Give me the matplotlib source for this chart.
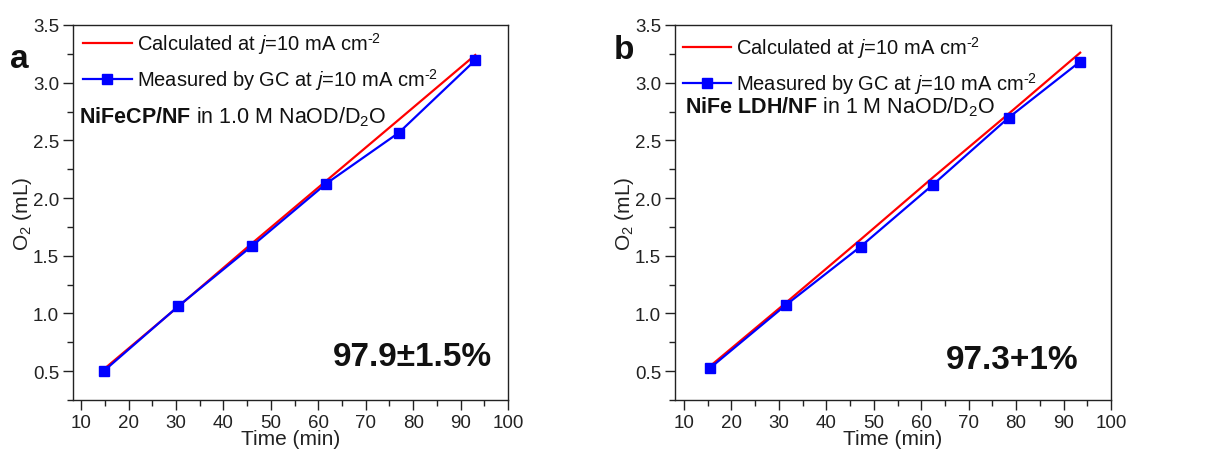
import matplotlib
matplotlib.use("Agg")
import matplotlib.pyplot as plt
from matplotlib.ticker import MultipleLocator

FONT = 'Liberation Sans'
plt.rcParams['font.family'] = [FONT, 'DejaVu Sans']
plt.rcParams['mathtext.fontset'] = 'custom'
plt.rcParams['mathtext.rm'] = FONT
plt.rcParams['mathtext.it'] = FONT + ':italic'
plt.rcParams['mathtext.bf'] = FONT + ':bold'

# Panel a data
time_a = [14.9, 30.5, 46.1, 61.7, 77.0, 93.1]
calc_a = [0.52, 1.06, 1.61, 2.15, 2.68, 3.24]
meas_a = [0.505, 1.063, 1.587, 2.126, 2.567, 3.195]

# Panel b data
time_b = [15.4, 31.4, 47.2, 62.5, 78.4, 93.5]
calc_b = [0.54, 1.09, 1.64, 2.18, 2.73, 3.26]
meas_b = [0.524, 1.071, 1.579, 2.117, 2.696, 3.183]

legend_calc = r'Calculated at $j$=10 mA cm$^{\text{-2}}$'
legend_meas = r'Measured by GC at $j$=10 mA cm$^{\text{-2}}$'
note_a = r'$\mathbf{NiFeCP/NF}$ in 1.0 M NaOD/D$_2$O'
note_b = r'$\mathbf{NiFe\ LDH/NF}$ in 1 M NaOD/D$_2$O'
eff_a = '97.9\u00b11.5%'
eff_b = '97.3+1%'

W, H = 1216, 456
fig = plt.figure(figsize=(W / 100, H / 100), dpi=100)


def px_axes(l, r, t, b):
    return fig.add_axes([l / W, 1 - b / H, (r - l) / W, (b - t) / H])


def style(ax, xmin):
    ax.set_xlim(xmin, 100)
    ax.set_ylim(0.25, 3.5)
    ax.xaxis.set_major_locator(MultipleLocator(10))
    ax.xaxis.set_minor_locator(MultipleLocator(5))
    ax.yaxis.set_major_locator(MultipleLocator(0.5))
    ax.yaxis.set_minor_locator(MultipleLocator(0.25))
    ax.tick_params(which='both', direction='out', top=False, right=False,
                   labelsize=13.5, width=1.0, pad=3, colors='#222222')
    ax.tick_params(which='major', length=7)
    ax.tick_params(which='minor', length=4)
    for s in ax.spines.values():
        s.set_linewidth(1.0)
        s.set_color('#222222')
    ax.set_xlabel('Time (min)', fontsize=15, labelpad=-1, color='#222222')
    ax.set_ylabel(r'O$_2$ (mL)', fontsize=15, labelpad=-1, color='#222222')


panels = [
    (px_axes(73, 508, 26, 401), time_a, calc_a, meas_a, note_a, eff_a, 'a', 8.3,
     (0.005, 1.007), (0.013, 0.757), (19, 68), (0.78, 0.115)),
    (px_axes(675, 1111, 26, 401), time_b, calc_b, meas_b, note_b, eff_b, 'b', 8.1,
     (0.0, 0.997), (0.022, 0.784), (624, 59), (0.773, 0.109)),
]

for ax, t, c, m, note, eff, lab, xmin, legpos, notepos, labpos, effpos in panels:
    ax.plot(t, c, color='#ff0000', lw=1.6, label=legend_calc)
    ax.plot(t, m, color='#0000ff', lw=1.6, marker='s', ms=7,
            label=legend_meas)
    style(ax, xmin)
    ax.legend(loc='upper left', bbox_to_anchor=legpos, frameon=False,
              fontsize=14.5, handlelength=2.4, handletextpad=0.25,
              labelspacing=0.5, borderaxespad=0.2, borderpad=0.2,
              labelcolor='#111111')
    ax.text(notepos[0], notepos[1], note, transform=ax.transAxes,
            fontsize=15.5, ha='left', va='center', color='#111111')
    ax.text(effpos[0], effpos[1], eff, transform=ax.transAxes,
            fontsize=24, fontweight='bold', ha='center', va='center',
            color='#111111')
    fig.text(labpos[0] / W, 1 - labpos[1] / H, lab, fontsize=24,
             fontweight='bold', ha='center', va='baseline', color='#111111')

fig.savefig('out.png', dpi=100)
